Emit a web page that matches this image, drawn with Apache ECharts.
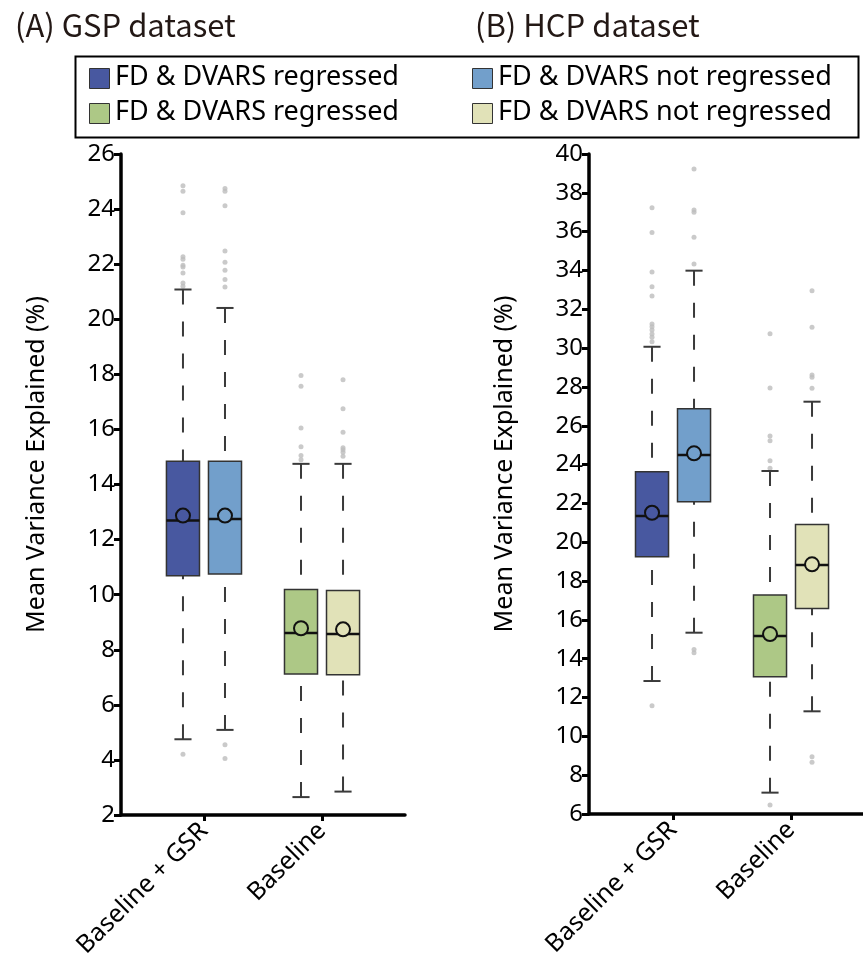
<!DOCTYPE html>
<html>
<head>
<meta charset="utf-8">
<script src="https://cdn.jsdelivr.net/npm/echarts@6/dist/echarts.min.js"></script>
<style>
html,body{margin:0;padding:0;background:#fff;}
#chart{width:863px;height:980px;}
</style>
</head>
<body>
<div id="chart"></div>
<script>
// categories and groups
var categories = ['Baseline + GSR', 'Baseline'];
var groupNames = ['FD & DVARS regressed', 'FD & DVARS not regressed'];
// box order: GSR regressed, GSR not regressed, Baseline regressed, Baseline not regressed
var boxPos = [-0.178, 0.178, 0.822, 1.178];
var boxColors = ['#4858a0', '#729fcb', '#adc886', '#e1e2b8'];

// (A) GSP dataset
var gspLow    = [4.75, 5.09, 2.65, 2.85];
var gspQ1     = [10.69, 10.75, 7.12, 7.09];
var gspMedian = [12.69, 12.75, 8.61, 8.57];
var gspQ3     = [14.84, 14.84, 10.19, 10.15];
var gspHigh   = [21.08, 20.41, 14.75, 14.75];
var gspMean   = [12.87, 12.87, 8.78, 8.74];
var gspOutliers = [
  [24.85, 24.65, 23.87, 22.27, 22.18, 21.96, 21.90, 21.68, 21.32, 21.2, 4.21],
  [24.75, 24.65, 24.12, 22.48, 22.07, 21.78, 21.44, 21.17, 4.55, 4.05],
  [17.96, 17.57, 16.05, 15.37, 15.05, 14.9],
  [17.8, 16.75, 15.9, 15.33, 15.26, 15.17, 15.03]
];

// (B) HCP dataset
var hcpLow    = [12.85, 15.34, 7.1, 11.29];
var hcpQ1     = [19.25, 22.09, 13.07, 16.59];
var hcpMedian = [21.35, 24.49, 15.17, 18.83];
var hcpQ3     = [23.63, 26.88, 17.28, 20.92];
var hcpHigh   = [30.07, 33.99, 23.67, 27.24];
var hcpMean   = [21.52, 24.58, 15.27, 18.86];
var hcpOutliers = [
  [37.23, 35.95, 33.92, 33.16, 32.68, 31.24, 31.1, 30.93, 30.73, 30.56, 30.33, 11.58],
  [39.23, 37.11, 37.0, 35.71, 34.33, 14.48, 14.31],
  [30.74, 27.94, 25.47, 25.23, 24.2, 23.81, 6.46],
  [32.96, 31.07, 28.61, 28.5, 27.93, 8.95, 8.66]
];

var fontMain = 'Noto Sans';

function boxData(low, q1, med, q3, high, mean){
  var out = [];
  for (var i = 0; i < 4; i++) {
    out.push([boxPos[i], low[i], q1[i], med[i], q3[i], high[i], mean[i], i]);
  }
  return out;
}

function outlierData(list){
  var out = [];
  list.forEach(function(vals, i){
    vals.forEach(function(v){ out.push([boxPos[i], v]); });
  });
  return out;
}

function renderBox(params, api){
  var x = api.value(0);
  var low = api.coord([x, api.value(1)]);
  var q1 = api.coord([x, api.value(2)]);
  var med = api.coord([x, api.value(3)]);
  var q3 = api.coord([x, api.value(4)]);
  var high = api.coord([x, api.value(5)]);
  var mean = api.coord([x, api.value(6)]);
  var color = boxColors[api.value(7)];
  var half = api.size([0.28, 0])[0] / 2;
  var cap = api.size([0.145, 0])[0] / 2;
  var cx = low[0];
  var dash = {stroke: '#3a3a3a', lineWidth: 2, lineDash: [15, 17]};
  var solid = {stroke: '#3a3a3a', lineWidth: 2};
  return {
    type: 'group',
    children: [
      {type: 'line', shape: {x1: cx, y1: high[1], x2: cx, y2: q3[1]}, style: dash},
      {type: 'line', shape: {x1: cx, y1: low[1], x2: cx, y2: q1[1]}, style: dash},
      {type: 'line', shape: {x1: cx - cap, y1: high[1], x2: cx + cap, y2: high[1]}, style: solid},
      {type: 'line', shape: {x1: cx - cap, y1: low[1], x2: cx + cap, y2: low[1]}, style: solid},
      {type: 'rect', shape: {x: cx - half, y: q3[1], width: half * 2, height: q1[1] - q3[1]},
        style: {fill: color, stroke: '#333', lineWidth: 1.5}},
      {type: 'line', shape: {x1: cx - half, y1: med[1], x2: cx + half, y2: med[1]},
        style: {stroke: '#111', lineWidth: 2.5}},
      {type: 'circle', shape: {cx: cx, cy: mean[1], r: 7},
        style: {fill: color, stroke: '#111', lineWidth: 2}}
    ]
  };
}

function xAxisFor(gridIndex, min, max){
  return {
    type: 'value', gridIndex: gridIndex, min: min, max: max,
    splitLine: {show: false},
    axisLine: {onZero: false, lineStyle: {color: '#000', width: 3.5}},
    axisTick: {customValues: [0, 1], length: 6, lineStyle: {color: '#000', width: 3}},
    axisLabel: {
      customValues: [0, 1], rotate: 45, margin: 12,
      fontSize: 25, color: '#000', fontFamily: fontMain,
      formatter: function(v){ return categories[Math.round(v)]; }
    }
  };
}

function yAxisFor(gridIndex, min, max){
  return {
    type: 'value', gridIndex: gridIndex, min: min, max: max, interval: 2,
    splitLine: {show: false},
    axisLine: {show: true, onZero: false, lineStyle: {color: '#000', width: 3.5}},
    axisTick: {show: true, length: 7, lineStyle: {color: '#000', width: 3}},
    axisLabel: {fontSize: 24, color: '#000', fontFamily: fontMain, margin: 6},
    name: 'Mean Variance Explained (%)',
    nameLocation: 'middle', nameGap: 72,
    nameTextStyle: {fontSize: 25, color: '#000', fontFamily: fontMain, padding: [0, 0, 0, 40]}
  };
}

var legendItems = [
  {x: 89, y: 68, color: boxColors[0], text: groupNames[0]},
  {x: 89, y: 103, color: boxColors[2], text: groupNames[0]},
  {x: 472, y: 68, color: boxColors[1], text: groupNames[1]},
  {x: 472, y: 103, color: boxColors[3], text: groupNames[1]}
];
var legendGraphics = [{
  type: 'rect', left: 73, top: 54,
  shape: {width: 783, height: 81},
  style: {fill: 'none', stroke: '#000', lineWidth: 2}
}];
legendItems.forEach(function(it){
  legendGraphics.push({
    type: 'rect', left: it.x, top: it.y,
    shape: {width: 20, height: 20},
    style: {fill: it.color, stroke: '#333', lineWidth: 1}
  });
  legendGraphics.push({
    type: 'text', left: it.x + 26, top: it.y - 4,
    style: {text: it.text, fontSize: 27, fill: '#000', fontFamily: fontMain}
  });
});

var myChart = echarts.init(document.getElementById('chart'));
var option = {
  animation: false,
  backgroundColor: '#fff',
  title: [
    {text: '(A) GSP dataset', left: 10, top: 5,
      textStyle: {fontSize: 31, fontWeight: 'normal', color: '#231815', fontFamily: 'Noto Sans CJK SC'}},
    {text: '(B) HCP dataset', left: 470, top: 5,
      textStyle: {fontSize: 31, fontWeight: 'normal', color: '#231815', fontFamily: 'Noto Sans CJK SC'}}
  ],
  graphic: legendGraphics,
  grid: [
    {left: 121, top: 154, width: 284, height: 661},
    {left: 589, top: 154, width: 274, height: 660}
  ],
  xAxis: [
    xAxisFor(0, -0.703, 1.703),
    xAxisFor(1, -0.712, 1.61)
  ],
  yAxis: [
    yAxisFor(0, 2, 26),
    yAxisFor(1, 6, 40)
  ],
  series: [
    {
      type: 'scatter', xAxisIndex: 0, yAxisIndex: 0,
      symbolSize: 5, itemStyle: {color: '#bdbdbd'},
      data: outlierData(gspOutliers), z: 1
    },
    {
      type: 'custom', xAxisIndex: 0, yAxisIndex: 0,
      renderItem: renderBox,
      encode: {x: 0, y: [1, 5]},
      data: boxData(gspLow, gspQ1, gspMedian, gspQ3, gspHigh, gspMean), z: 2
    },
    {
      type: 'scatter', xAxisIndex: 1, yAxisIndex: 1,
      symbolSize: 5, itemStyle: {color: '#bdbdbd'},
      data: outlierData(hcpOutliers), z: 1
    },
    {
      type: 'custom', xAxisIndex: 1, yAxisIndex: 1,
      renderItem: renderBox,
      encode: {x: 0, y: [1, 5]},
      data: boxData(hcpLow, hcpQ1, hcpMedian, hcpQ3, hcpHigh, hcpMean), z: 2
    }
  ]
};
myChart.setOption(option);
</script>
</body>
</html>
